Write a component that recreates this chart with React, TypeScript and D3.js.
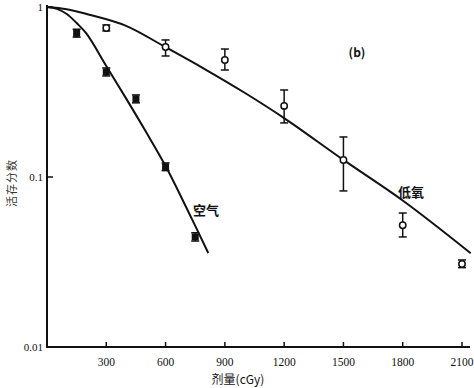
import * as d3 from "d3";
import { useEffect, useRef } from "react";

// x ticks (dose, cGy) and y ticks (survival fraction)
const doseTicks = [300, 600, 900, 1200, 1500, 1800, 2100];
const sfTicks = [1, 0.1, 0.01];
const sfTickLabels = ["1", "0.1", "0.01"];

// 空气 (air) - filled markers
const airDose = [150, 300, 450, 600, 750];
const airSF = [0.7, 0.415, 0.288, 0.115, 0.0444];
const airLo = [0.665, 0.393, 0.273, 0.109, 0.042];
const airHi = [0.74, 0.438, 0.304, 0.121, 0.047];

// 低氧 (hypoxic) - open markers
const hypDose = [300, 600, 900, 1200, 1500, 1800, 2100];
const hypSF = [0.752, 0.582, 0.488, 0.262, 0.126, 0.052, 0.0308];
const hypLo = [0.723, 0.515, 0.426, 0.208, 0.0828, 0.0444, 0.0293];
const hypHi = [0.784, 0.64, 0.566, 0.325, 0.172, 0.0614, 0.0325];

// fitted curves
const airCurveDose = [0, 50, 100, 150, 200, 300, 400, 500, 600, 700, 816];
const airCurveSF = [1, 0.975, 0.91, 0.805, 0.697, 0.45, 0.29, 0.185, 0.116, 0.068, 0.0357];
const hypCurveDose = [0, 100, 200, 400, 600, 800, 1000, 1200, 1500, 1800, 2144];
const hypCurveSF = [1, 0.97, 0.91, 0.775, 0.58, 0.43, 0.313, 0.222, 0.126, 0.0727, 0.0356];

export default function App() {
  const ref = useRef<SVGSVGElement>(null);

  useEffect(() => {
    if (!ref.current) return;
    const svg = d3.select(ref.current);
    svg.selectAll("*").remove();

    const width = 474;
    const height = 388;
    const x = d3.scaleLinear().domain([0, 2100]).range([47, 462]);
    const y = d3.scaleLog().domain([0.01, 1]).range([347, 7]);

    svg.attr("width", width).attr("height", height);
    svg.append("rect").attr("width", width).attr("height", height).attr("fill", "#fff");

    // axes lines
    const ink = "#111";
    svg.append("line")
      .attr("x1", x(0)).attr("x2", 470)
      .attr("y1", y(0.01)).attr("y2", y(0.01))
      .attr("stroke", ink).attr("stroke-width", 2);
    svg.append("line")
      .attr("x1", x(0)).attr("x2", x(0))
      .attr("y1", y(1) - 2).attr("y2", y(0.01) + 1)
      .attr("stroke", ink).attr("stroke-width", 2);

    // x ticks
    const xt = svg.append("g");
    xt.selectAll("line")
      .data(doseTicks)
      .join("line")
      .attr("x1", (d) => x(d)).attr("x2", (d) => x(d))
      .attr("y1", y(0.01)).attr("y2", y(0.01) - 5)
      .attr("stroke", ink).attr("stroke-width", 1.5);
    xt.selectAll("text")
      .data(doseTicks)
      .join("text")
      .attr("x", (d) => x(d))
      .attr("y", 366)
      .attr("text-anchor", "middle")
      .style("font-family", "'Liberation Serif', serif")
      .style("font-size", "11.5px")
      .attr("fill", ink)
      .text((d) => String(d));

    // y ticks
    const yt = svg.append("g");
    yt.selectAll("line")
      .data(sfTicks.slice(0, 2))
      .join("line")
      .attr("x1", x(0)).attr("x2", x(0) + 6)
      .attr("y1", (d) => y(d)).attr("y2", (d) => y(d))
      .attr("stroke", ink).attr("stroke-width", 1.5);
    yt.selectAll("text")
      .data(sfTicks)
      .join("text")
      .attr("x", x(0) - 4)
      .attr("y", (d) => y(d) + 4)
      .attr("text-anchor", "end")
      .style("font-family", "'Liberation Serif', serif")
      .style("font-size", "11px")
      .attr("fill", ink)
      .text((d, i) => sfTickLabels[i]);

    // axis titles
    svg.append("text")
      .attr("x", 238).attr("y", 384)
      .attr("text-anchor", "middle")
      .style("font-family", "'Noto Sans CJK SC', sans-serif")
      .style("font-size", "12px")
      .attr("fill", ink)
      .text("剂量(cGy)");
    svg.append("text")
      .attr("transform", "translate(16,183) rotate(-90)")
      .attr("text-anchor", "middle")
      .style("font-family", "'Noto Sans CJK SC', sans-serif")
      .style("font-size", "11px")
      .style("letter-spacing", "1px")
      .attr("fill", "#333")
      .text("活存分数");

    // curves
    const airPts = airCurveDose.map((d, i) => [x(d), y(airCurveSF[i])] as [number, number]);
    const hypPts = hypCurveDose.map((d, i) => [x(d), y(hypCurveSF[i])] as [number, number]);
    const lineGen = d3.line().curve(d3.curveCatmullRom);
    svg.append("path").attr("d", lineGen(airPts))
      .attr("fill", "none").attr("stroke", ink).attr("stroke-width", 2);
    svg.append("path").attr("d", lineGen(hypPts))
      .attr("fill", "none").attr("stroke", ink).attr("stroke-width", 2);

    // error bars helper
    const errBars = (dose: number[], lo: number[], hi: number[]) => {
      const g = svg.append("g").attr("stroke", ink).attr("stroke-width", 1.5);
      dose.forEach((d, i) => {
        g.append("line").attr("x1", x(d)).attr("x2", x(d)).attr("y1", y(lo[i])).attr("y2", y(hi[i]));
        g.append("line").attr("x1", x(d) - 4).attr("x2", x(d) + 4).attr("y1", y(lo[i])).attr("y2", y(lo[i]));
        g.append("line").attr("x1", x(d) - 4).attr("x2", x(d) + 4).attr("y1", y(hi[i])).attr("y2", y(hi[i]));
      });
    };
    errBars(airDose, airLo, airHi);
    errBars(hypDose, hypLo, hypHi);

    // air markers (filled)
    svg.append("g").selectAll("rect")
      .data(airDose)
      .join("rect")
      .attr("x", (d) => x(d) - 3.5)
      .attr("y", (d, i) => y(airSF[i]) - 3.5)
      .attr("width", 7).attr("height", 7)
      .attr("fill", ink);

    // hypoxic markers (open)
    svg.append("g").selectAll("circle")
      .data(hypDose)
      .join("circle")
      .attr("cx", (d) => x(d))
      .attr("cy", (d, i) => y(hypSF[i]))
      .attr("r", 3.2)
      .attr("fill", "#fff")
      .attr("stroke", ink).attr("stroke-width", 1.5);

    // labels
    const label = (tx: number, ty: number, s: string, size: number) =>
      svg.append("text")
        .attr("x", tx).attr("y", ty)
        .attr("text-anchor", "middle")
        .style("font-family", "'Noto Sans CJK SC', sans-serif")
        .style("font-weight", "bold")
        .style("font-size", `${size}px`)
        .attr("fill", ink)
        .text(s);
    label(206, 215, "空气", 13);
    label(411, 197, "低氧", 13);
    label(357, 57, "(b)", 12);
  }, []);

  return (
    <svg
      ref={ref}
      style={{ position: "absolute", left: 0, top: 0, display: "block" }}
    />
  );
}
